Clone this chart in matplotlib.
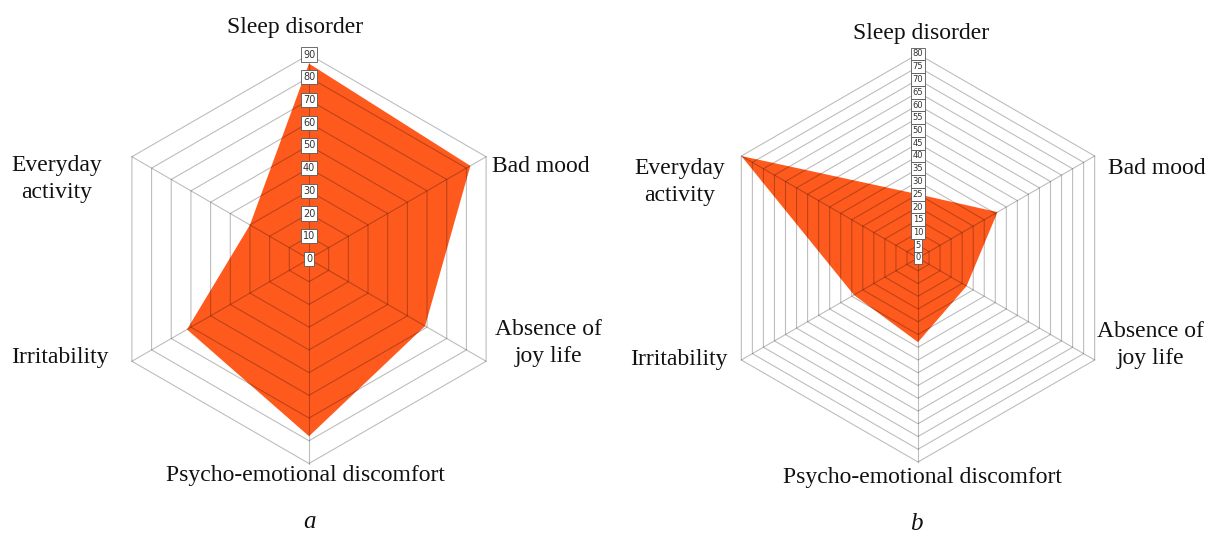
import numpy as np
import matplotlib
matplotlib.use("Agg")
import matplotlib.pyplot as plt

# ── data ────────────────────────────────────────────────────────────────
categories = ["Sleep disorder", "Bad mood", "Absence of\njoy life",
              "Psycho-emotional discomfort", "Irritability", "Everyday\nactivity"]
values_a = [86, 82, 59, 78, 62, 30]
values_b = [25, 36, 22, 33, 29, 80]
ticks_a = list(range(0, 91, 10))
ticks_b = list(range(0, 81, 5))
panel_labels = ["a", "b"]

W, H = 1221, 534
FILL = "#FF5A1E"
SERIF = "Liberation Serif"
ANGLES = np.deg2rad([90, 30, -30, -90, -150, 150])


def radar(ax, cx, cy, R, ticks, values, label_pos, panel, panel_xy, tick_fs):
    vmax = ticks[-1]
    k = R / vmax  # pixels per unit

    def pts(r):
        r = np.broadcast_to(np.asarray(r, float), ANGLES.shape)
        return cx + r * k * np.cos(ANGLES), cy - r * k * np.sin(ANGLES)

    # filled series
    x, y = pts(values)
    ax.fill(x, y, color=FILL, lw=0, zorder=1)

    # hexagonal grid + spokes (translucent dark so it tints the fill)
    for t in ticks[1:]:
        gx, gy = pts(t)
        ax.plot(np.append(gx, gx[0]), np.append(gy, gy[0]),
                color="black", alpha=0.26, lw=0.8, zorder=2)
    ox, oy = pts(vmax)
    for px, py in zip(ox, oy):
        ax.plot([cx, px], [cy, py], color="black", alpha=0.26, lw=0.8, zorder=2)

    # tick boxes along vertical axis
    for t in ticks:
        ax.text(cx, cy - t * k, str(t), fontsize=tick_fs, color="#333333",
                ha="center", va="center", zorder=4,
                bbox=dict(boxstyle="square,pad=0.22", fc="white",
                          ec="#555555", lw=0.6))

    # category labels
    for name, (lx, ly, ha) in zip(categories, label_pos):
        ax.text(lx, ly, name, fontsize=17, family=SERIF, ha=ha, va="center",
                linespacing=1.35, multialignment="center", color="#111111")

    ax.text(*panel_xy, panel, fontsize=18, family=SERIF, style="italic",
            ha="center", va="center", color="#111111")


fig = plt.figure(figsize=(W / 100, H / 100), dpi=100)
ax = fig.add_axes([0, 0, 1, 1])
ax.set_xlim(0, W)
ax.set_ylim(H, 0)
ax.axis("off")

radar(ax, 309, 259, 204.5, ticks_a, values_a,
      [(295, 27, "center"), (492, 166, "left"), (548, 343, "center"),
       (305, 476, "center"), (60, 358, "center"), (57, 179, "center")],
      panel_labels[0], (309, 522), 7)

radar(ax, 918, 258, 204, ticks_b, values_b,
      [(921, 33, "center"), (1108, 168, "left"), (1150, 345, "center"),
       (922, 477, "center"), (679, 360, "center"), (680, 182, "center")],
      panel_labels[1], (916, 524), 6)

fig.savefig("out.png", dpi=100, facecolor="white")
